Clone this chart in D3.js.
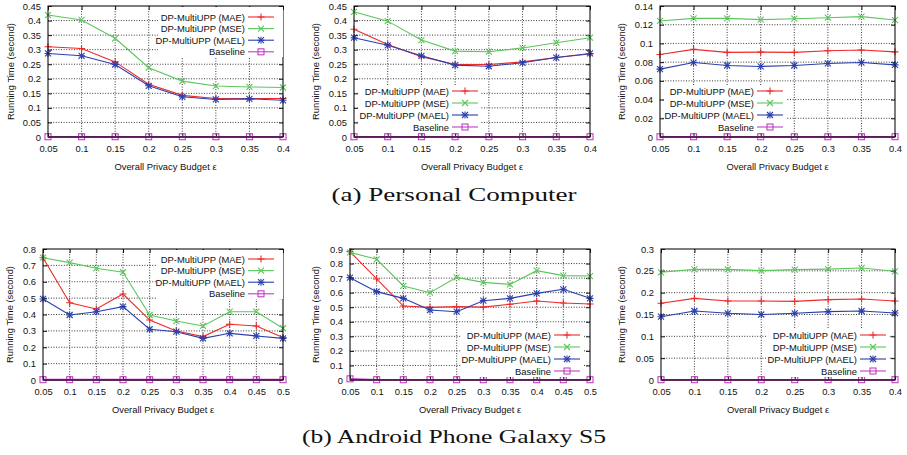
<!DOCTYPE html>
<html><head><meta charset="utf-8">
<script src="https://cdn.jsdelivr.net/npm/d3@7"></script>
<style>
body{margin:0;background:#fff}
svg{display:block}
.lbl{font-family:"Liberation Sans",Arial,Helvetica,sans-serif;font-size:9.4px;fill:#111}
.cap{font-family:"Liberation Serif","DejaVu Serif",serif;font-size:19.5px;fill:#111}
</style>
</head><body>
<svg id="fig" width="907" height="455"></svg>
<script>
// Privacy budgets on the x axis
const epsShort = [0.05, 0.1, 0.15, 0.2, 0.25, 0.3, 0.35, 0.4];
const epsLong  = [0.05, 0.1, 0.15, 0.2, 0.25, 0.3, 0.35, 0.4, 0.45, 0.5];
const seriesNames = ["DP-MultiUPP (MAE)", "DP-MultiUPP (MSE)", "DP-MultiUPP (MAEL)", "Baseline"];

// Personal computer, experiment 1
const pc1MAE  = [0.310, 0.304, 0.258, 0.181, 0.143, 0.132, 0.132, 0.132];
const pc1MSE  = [0.419, 0.402, 0.339, 0.238, 0.192, 0.175, 0.172, 0.170];
const pc1MAEL = [0.287, 0.279, 0.249, 0.176, 0.138, 0.129, 0.131, 0.126];
const pc1Base = [0.001, 0.001, 0.001, 0.001, 0.001, 0.001, 0.001, 0.001];
// Personal computer, experiment 2
const pc2MAE  = [0.370, 0.318, 0.276, 0.249, 0.249, 0.258, 0.273, 0.285];
const pc2MSE  = [0.430, 0.398, 0.333, 0.295, 0.293, 0.306, 0.324, 0.341];
const pc2MAEL = [0.341, 0.315, 0.279, 0.247, 0.243, 0.255, 0.273, 0.287];
const pc2Base = [0.001, 0.001, 0.001, 0.001, 0.001, 0.001, 0.001, 0.001];
// Personal computer, experiment 3
const pc3MAE  = [0.0882, 0.0936, 0.0904, 0.0907, 0.0904, 0.0921, 0.0929, 0.0910];
const pc3MSE  = [0.1240, 0.1268, 0.1268, 0.1254, 0.1264, 0.1275, 0.1286, 0.1250];
const pc3MAEL = [0.0725, 0.0796, 0.0764, 0.0754, 0.0764, 0.0786, 0.0796, 0.0771];
const pc3Base = [0.0003, 0.0003, 0.0003, 0.0003, 0.0003, 0.0003, 0.0003, 0.0003];
// Galaxy S5, experiment 1
const ph1MAE  = [0.747, 0.472, 0.434, 0.525, 0.366, 0.299, 0.265, 0.340, 0.330, 0.259];
const ph1MSE  = [0.747, 0.717, 0.682, 0.658, 0.397, 0.360, 0.330, 0.417, 0.417, 0.316];
const ph1MAEL = [0.495, 0.397, 0.417, 0.448, 0.310, 0.295, 0.254, 0.285, 0.269, 0.254];
const ph1Base = [0.002, 0.002, 0.002, 0.002, 0.002, 0.002, 0.002, 0.002, 0.002, 0.002];
// Galaxy S5, experiment 2
const ph2MAE  = [0.882, 0.694, 0.508, 0.499, 0.504, 0.501, 0.520, 0.543, 0.529, 0.522];
const ph2MSE  = [0.877, 0.829, 0.646, 0.600, 0.705, 0.671, 0.657, 0.751, 0.717, 0.714];
const ph2MAEL = [0.703, 0.607, 0.561, 0.481, 0.469, 0.545, 0.561, 0.595, 0.623, 0.561];
const ph2Base = [0.008, 0.002, 0.002, 0.002, 0.002, 0.002, 0.002, 0.002, 0.002, 0.002];
// Galaxy S5, experiment 3
const ph3MAE  = [0.1756, 0.1870, 0.1810, 0.1810, 0.1800, 0.1840, 0.1855, 0.1810];
const ph3MSE  = [0.2466, 0.2534, 0.2534, 0.2504, 0.2527, 0.2540, 0.2565, 0.2490];
const ph3MAEL = [0.1450, 0.1580, 0.1527, 0.1500, 0.1527, 0.1565, 0.1580, 0.1534];
const ph3Base = [0.0007, 0.0007, 0.0007, 0.0007, 0.0007, 0.0007, 0.0007, 0.0007];

// Y tick labels
const yTicksPC   = [0, 0.05, 0.1, 0.15, 0.2, 0.25, 0.3, 0.35, 0.4, 0.45];
const yTicksPC3  = [0, 0.02, 0.04, 0.06, 0.08, 0.1, 0.12, 0.14];
const yTicksPh1  = [0, 0.1, 0.2, 0.3, 0.4, 0.5, 0.6, 0.7, 0.8];
const yTicksPh2  = [0, 0.1, 0.2, 0.3, 0.4, 0.5, 0.6, 0.7, 0.8, 0.9];
const yTicksPh3  = [0, 0.05, 0.1, 0.15, 0.2, 0.25, 0.3];

const captions = ["(a) Personal Computer", "(b) Android Phone Galaxy S5"];
const xTitle = "Overall Privacy Budget \u03b5";
const yTitle = "Running Time (second)";

const colors  = ["#ee2a2a", "#5cc65c", "#2a3fae", "#c13fc1"];
const markers = ["plus", "cross", "star", "square"];

// Panel layout: plot box, title offsets, key placement
const panels = [
  {x: epsShort, y: [pc1MAE, pc1MSE, pc1MAEL, pc1Base], yt: yTicksPC,
   box: [48, 283, 6, 137], yTitleX: 10,
   key: {right: 245, top: 17, step: 11.6, bx0: 158, bx1: 283, by0: 7, by1: 57}},
  {x: epsShort, y: [pc2MAE, pc2MSE, pc2MAEL, pc2Base], yt: yTicksPC,
   box: [354, 590, 6, 137], yTitleX: 315,
   key: {right: 449, top: 91, step: 12, bx0: 359, bx1: 481, by0: 85, by1: 133}},
  {x: epsShort, y: [pc3MAE, pc3MSE, pc3MAEL, pc3Base], yt: yTicksPC3,
   box: [660, 895, 6, 137], yTitleX: 621,
   key: {right: 754, top: 91, step: 12, bx0: 664, bx1: 786, by0: 85, by1: 133}},
  {x: epsLong, y: [ph1MAE, ph1MSE, ph1MAEL, ph1Base], yt: yTicksPh1,
   box: [43, 283, 249, 380], yTitleX: 9,
   key: {right: 245, top: 259, step: 11.6, bx0: 156, bx1: 283, by0: 250, by1: 299}},
  {x: epsLong, y: [ph2MAE, ph2MSE, ph2MAEL, ph2Base], yt: yTicksPh2,
   box: [350, 590, 249, 380], yTitleX: 315,
   key: {right: 551, top: 335, step: 12, bx0: 461, bx1: 583, by0: 329, by1: 377}},
  {x: epsShort, y: [ph3MAE, ph3MSE, ph3MAEL, ph3Base], yt: yTicksPh3,
   box: [661, 895, 249, 380], yTitleX: 621,
   key: {right: 857, top: 335, step: 12, bx0: 767, bx1: 889, by0: 329, by1: 377}}
];

const fmt = v => String(+v.toFixed(3));
const svg = d3.select("#fig");

function drawMarker(g, type, cx, cy, color) {
  const s = 3.5;
  const m = g.append("g").attr("transform", `translate(${cx},${cy})`)
    .attr("stroke", color).attr("fill", "none").attr("stroke-width", 1.1);
  if (type === "plus" || type === "star") {
    m.append("path").attr("d", `M${-s},0H${s}M0,${-s}V${s}`);
  }
  if (type === "cross" || type === "star") {
    const c = 3;
    m.append("path").attr("d", `M${-c},${-c}L${c},${c}M${-c},${c}L${c},${-c}`);
  }
  if (type === "square") {
    m.append("rect").attr("x", -3).attr("y", -3).attr("width", 6).attr("height", 6);
  }
}

panels.forEach(p => {
  const [x0, x1, y0, y1] = p.box;
  const xs = d3.scaleLinear().domain([p.x[0], p.x[p.x.length - 1]]).range([x0, x1]);
  const ys = d3.scaleLinear().domain([0, p.yt[p.yt.length - 1]]).range([y1, y0]);
  const g = svg.append("g");

  // dotted grid
  const grid = g.append("g").attr("stroke", "#222").attr("stroke-width", 0.9)
    .attr("stroke-dasharray", "1,1.6");
  p.yt.slice(1, -1).forEach(v => grid.append("line")
    .attr("x1", x0).attr("x2", x1).attr("y1", ys(v)).attr("y2", ys(v)));
  p.x.slice(1, -1).forEach(v => grid.append("line")
    .attr("x1", xs(v)).attr("x2", xs(v)).attr("y1", y0).attr("y2", y1));

  // axes with inward ticks, mirrored on the opposite sides
  const axB = d3.axisBottom(xs).tickValues(p.x).tickSize(-4).tickPadding(8).tickFormat(fmt);
  const axT = d3.axisTop(xs).tickValues(p.x).tickSize(-4).tickFormat("");
  const axL = d3.axisLeft(ys).tickValues(p.yt).tickSize(-4).tickPadding(7).tickFormat(fmt);
  const axR = d3.axisRight(ys).tickValues(p.yt).tickSize(-4).tickFormat("");
  [[axB, `0,${y1}`], [axT, `0,${y0}`], [axL, `${x0},0`], [axR, `${x1},0`]].forEach(([ax, t]) => {
    const a = g.append("g").attr("transform", `translate(${t})`).call(ax);
    a.select(".domain").remove();
    a.selectAll("line").attr("stroke", "#111");
    a.selectAll("text").attr("class", "lbl").attr("font-family", null).attr("font-size", null);
  });

  // series lines and markers
  p.y.forEach((vals, i) => {
    const pts = vals.map((v, k) => [xs(p.x[k]), ys(v)]);
    g.append("path").attr("d", d3.line()(pts)).attr("fill", "none")
      .attr("stroke", colors[i]).attr("stroke-width", i === 3 ? 1.6 : 1.1);
    pts.forEach(([cx, cy]) => drawMarker(g, markers[i], cx, cy, colors[i]));
  });

  // frame
  g.append("rect").attr("x", x0).attr("y", y0).attr("width", x1 - x0).attr("height", y1 - y0)
    .attr("fill", "none").attr("stroke", "#111").attr("stroke-width", 1.1);
  g.append("line").attr("x1", x0).attr("x2", x1).attr("y1", y1).attr("y2", y1)
    .attr("stroke", "#5a1d5a").attr("stroke-width", 1.6);

  // opaque key
  const k = p.key;
  g.append("rect").attr("x", k.bx0).attr("y", k.by0).attr("width", k.bx1 - k.bx0)
    .attr("height", k.by1 - k.by0).attr("fill", "#fff");
  seriesNames.forEach((name, i) => {
    const yy = k.top + i * k.step;
    g.append("text").attr("class", "lbl").attr("x", k.right).attr("y", yy)
      .attr("text-anchor", "end").attr("dominant-baseline", "central").text(name);
    g.append("line").attr("x1", k.right + 3).attr("x2", k.right + 29)
      .attr("y1", yy).attr("y2", yy).attr("stroke", colors[i]).attr("stroke-width", 1.1);
    drawMarker(g, markers[i], k.right + 16, yy, colors[i]);
  });

  // axis titles
  g.append("text").attr("class", "lbl").attr("x", (x0 + x1) / 2).attr("y", y1 + 29)
    .attr("text-anchor", "middle").attr("dominant-baseline", "central").text(xTitle);
  g.append("text").attr("class", "lbl")
    .attr("transform", `translate(${p.yTitleX},${(y0 + y1) / 2}) rotate(-90)`)
    .attr("text-anchor", "middle").attr("dominant-baseline", "central").text(yTitle);
});

// sub-figure captions
svg.append("text").attr("class", "cap").attr("x", 454).attr("y", 201)
  .attr("text-anchor", "middle").attr("textLength", 245).attr("lengthAdjust", "spacingAndGlyphs")
  .text(captions[0]);
svg.append("text").attr("class", "cap").attr("x", 454).attr("y", 443)
  .attr("text-anchor", "middle").attr("textLength", 304).attr("lengthAdjust", "spacingAndGlyphs")
  .text(captions[1]);
</script>
</body></html>
